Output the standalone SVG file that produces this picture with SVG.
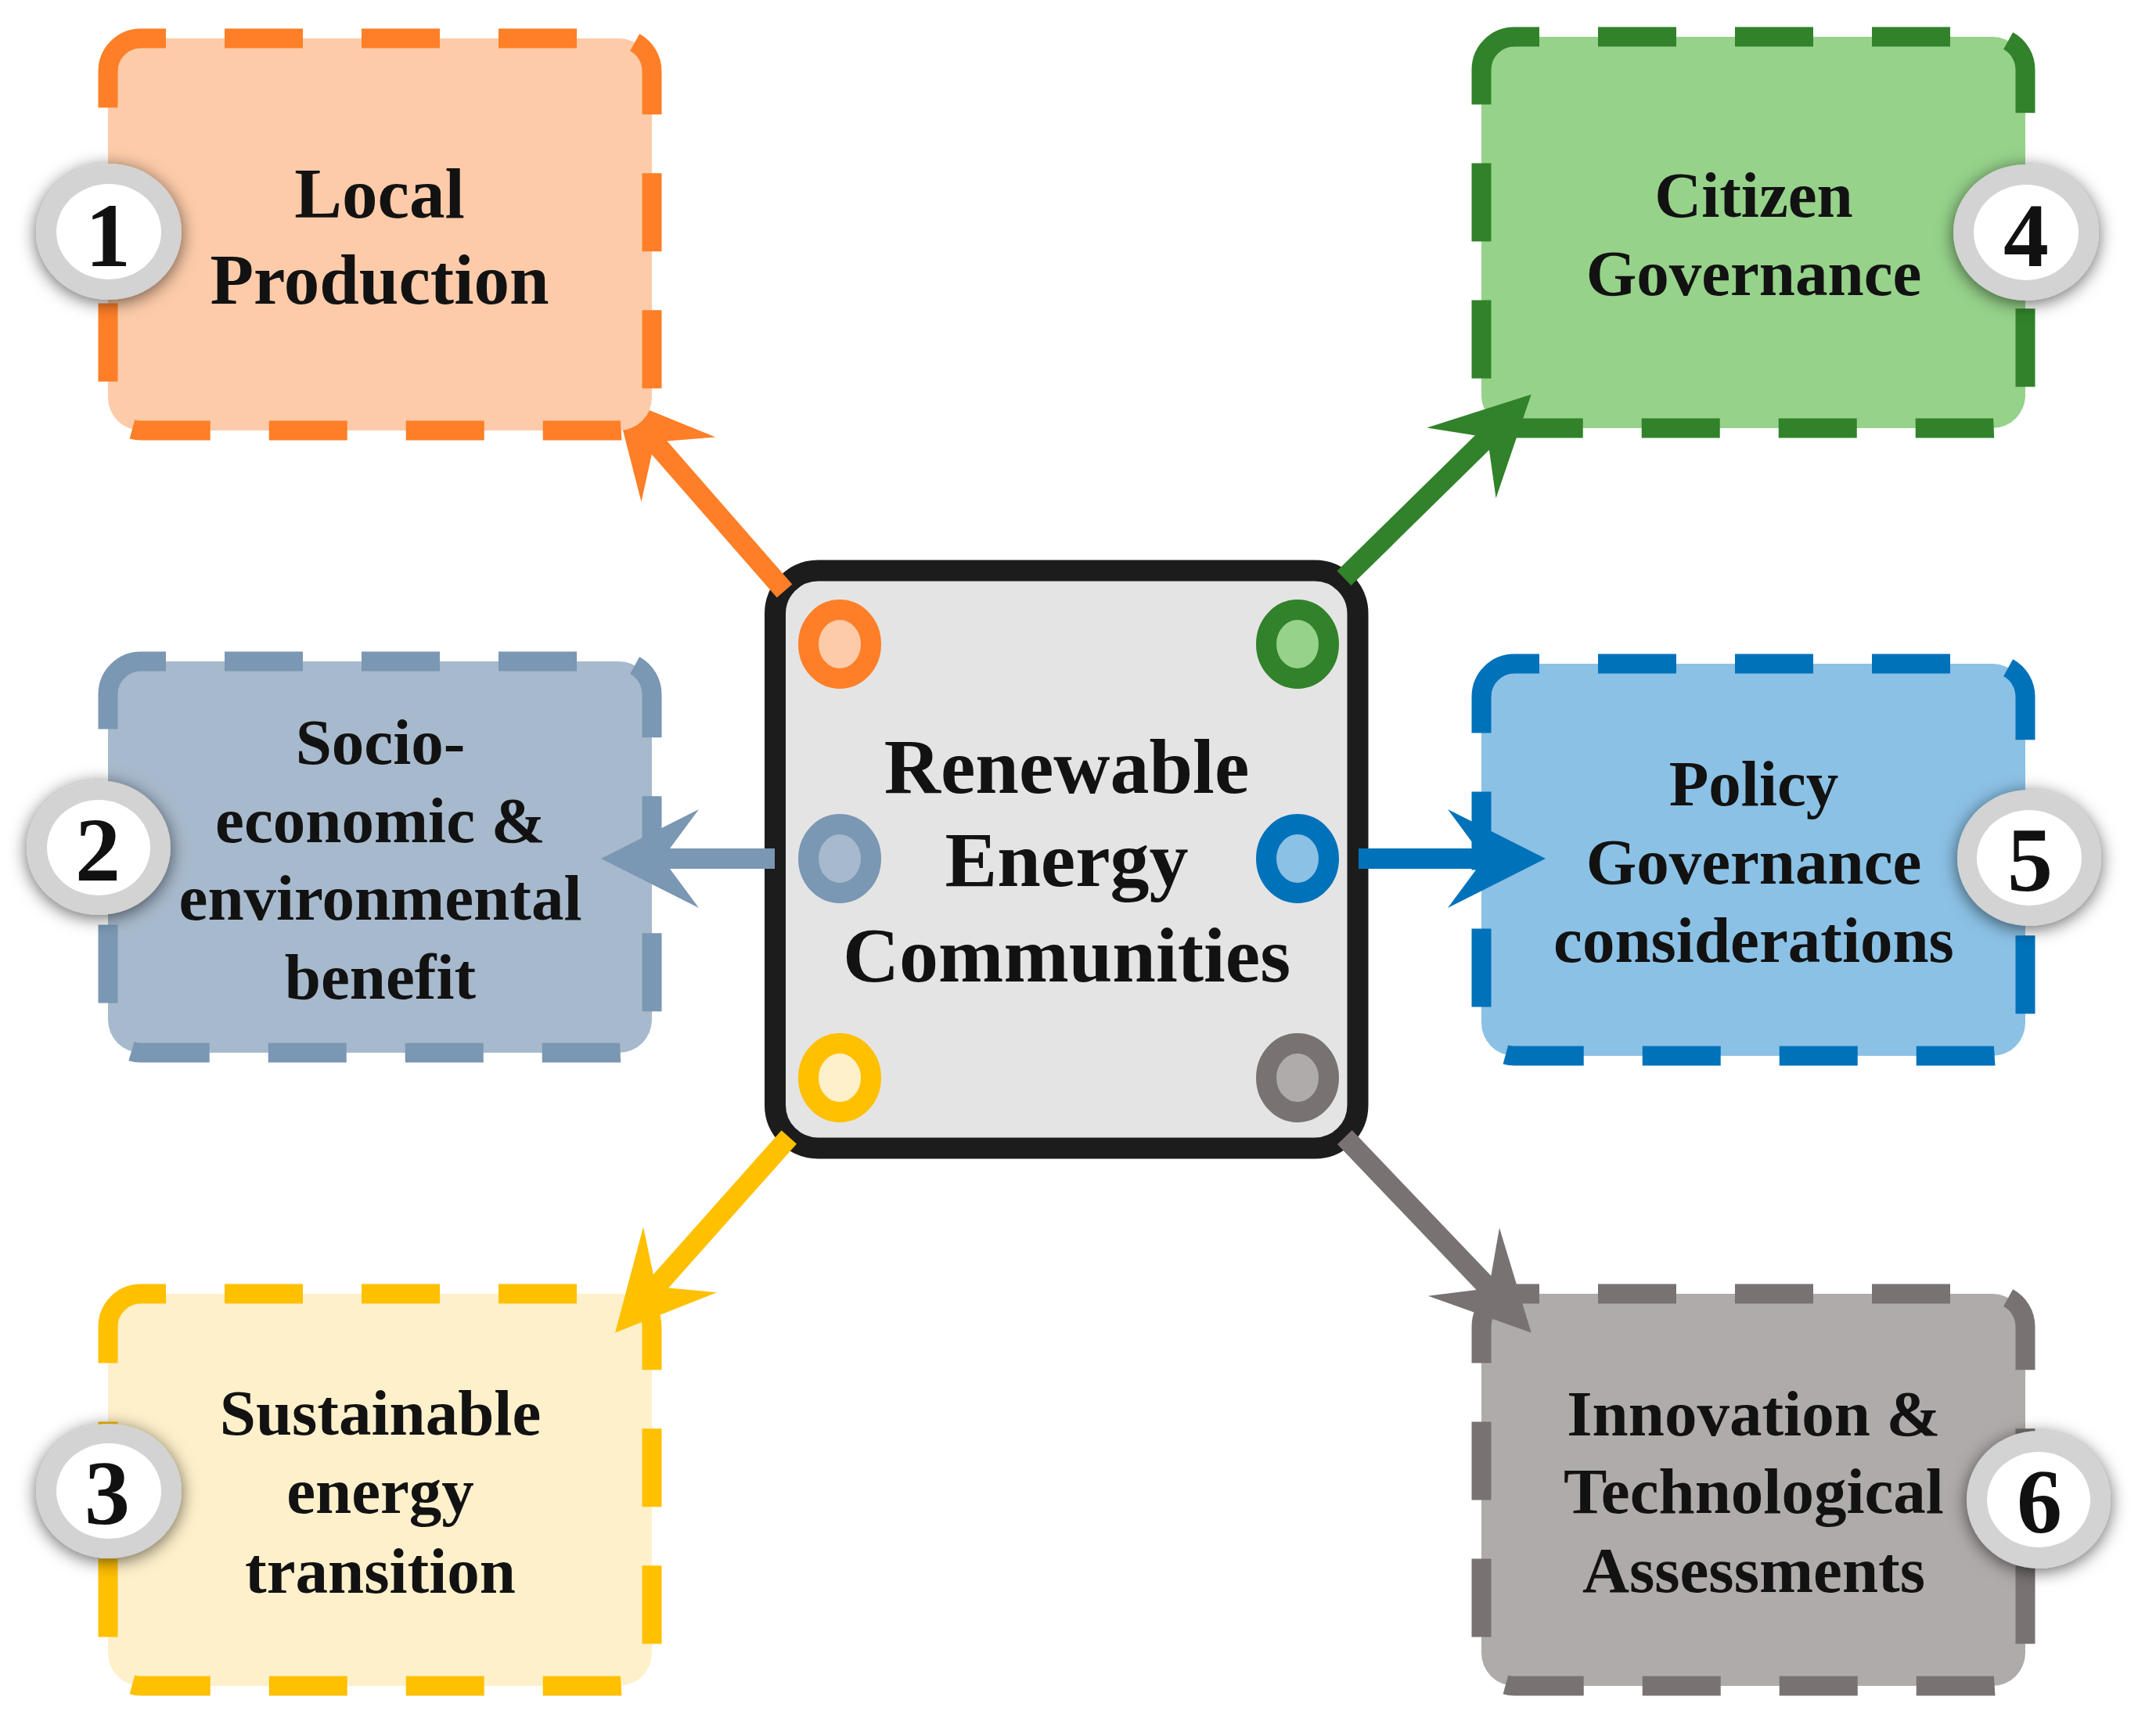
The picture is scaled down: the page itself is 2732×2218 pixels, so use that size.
<svg xmlns="http://www.w3.org/2000/svg" width="2732" height="2218" viewBox="0 0 2732 2218">
  <style>
    .box { stroke-width: 25; stroke-dasharray: 0 75 100 75 100 75 100 75 100 75 100 75 100 75 100 75 100 75 100 75 100 75 100 75 100 75 145 0; stroke-dashoffset: 2288; stroke-linecap: butt; }
    .lbl { font-family: "Liberation Serif", "Times New Roman", serif; font-weight: bold; fill: #121212; text-anchor: middle; }
    .t84 { font-size: 83px; }
    .t91 { font-size: 91px; }
    .t100 { font-size: 100px; }
    .num { font-family: "Liberation Serif", "Times New Roman", serif; font-weight: bold; font-size: 116px; fill: #111; text-anchor: middle; }
    .ring { fill: #d3d3d3; filter: url(#shadow); }
    .ringin { fill: #ffffff; }
    .dot { stroke-width: 26; }
    .conn { stroke-width: 26; fill: none; stroke-linecap: butt; }
  </style>
  <defs>
    <filter id="shadow" x="-40%" y="-40%" width="180%" height="180%">
      <feDropShadow dx="0" dy="4" stdDeviation="11" flood-color="#000" flood-opacity="0.6"/>
    </filter>
    <clipPath id="clipBox1">
      <path clip-rule="evenodd" d="M0 0H2732V2218H0Z M180 49H791A42 42 0 0 1 833 91V508A42 42 0 0 1 791 550H180A42 42 0 0 1 138 508V91A42 42 0 0 1 180 49Z"/>
    </clipPath>
    <marker id="ah-orange" markerUnits="userSpaceOnUse" orient="auto" overflow="visible" refX="0" refY="0" markerWidth="1" markerHeight="1">
      <path d="M40,0 L-85,-63 L-48,-13 L-48,13 L-85,63 Z" fill="#FE7F27"/>
    </marker>
    <marker id="ah-bluegray" markerUnits="userSpaceOnUse" orient="auto" overflow="visible" refX="0" refY="0" markerWidth="1" markerHeight="1">
      <path d="M40,0 L-85,-63 L-48,-13 L-48,13 L-85,63 Z" fill="#7A97B3"/>
    </marker>
    <marker id="ah-yellow" markerUnits="userSpaceOnUse" orient="auto" overflow="visible" refX="0" refY="0" markerWidth="1" markerHeight="1">
      <path d="M40,0 L-85,-63 L-48,-13 L-48,13 L-85,63 Z" fill="#FFC000"/>
    </marker>
    <marker id="ah-green" markerUnits="userSpaceOnUse" orient="auto" overflow="visible" refX="0" refY="0" markerWidth="1" markerHeight="1">
      <path d="M40,0 L-85,-63 L-48,-13 L-48,13 L-85,63 Z" fill="#31822A"/>
    </marker>
    <marker id="ah-blue" markerUnits="userSpaceOnUse" orient="auto" overflow="visible" refX="0" refY="0" markerWidth="1" markerHeight="1">
      <path d="M40,0 L-85,-63 L-48,-13 L-48,13 L-85,63 Z" fill="#0072BA"/>
    </marker>
    <marker id="ah-gray" markerUnits="userSpaceOnUse" orient="auto" overflow="visible" refX="0" refY="0" markerWidth="1" markerHeight="1">
      <path d="M40,0 L-85,-63 L-48,-13 L-48,13 L-85,63 Z" fill="#797272"/>
    </marker>
  </defs>

  <rect x="0" y="0" width="2732" height="2218" fill="#ffffff"/>

  <!-- Central node -->
  <g id="center">
    <rect x="990.5" y="729" width="744.5" height="738" rx="55" ry="55" fill="#E4E4E4" stroke="#1C1C1C" stroke-width="27"/>
    <ellipse class="dot" cx="1073" cy="823" rx="40" ry="44" fill="#FDCBA9" stroke="#FE7F27"/>
    <ellipse class="dot" cx="1658" cy="823" rx="40" ry="44" fill="#96D28A" stroke="#31822A"/>
    <ellipse class="dot" cx="1073" cy="1097" rx="40" ry="44" fill="#A7B9CC" stroke="#7A97B3"/>
    <ellipse class="dot" cx="1658" cy="1097" rx="40" ry="44" fill="#8BC1E5" stroke="#0072BA"/>
    <ellipse class="dot" cx="1073" cy="1377" rx="40" ry="44" fill="#FEF0CA" stroke="#FFC000"/>
    <ellipse class="dot" cx="1658" cy="1377" rx="40" ry="44" fill="#AFABAA" stroke="#797272"/>
    <text class="lbl t100" x="1363" y="1013">Renewable</text>
    <text class="lbl t100" x="1363" y="1132">Energy</text>
    <text class="lbl t100" x="1363" y="1254">Communities</text>
  </g>

  <!-- Node 1 -->
  <g id="node1">
    <rect class="box" x="138" y="49" width="695" height="501" rx="42" ry="42" fill="#FDCBA9" stroke="#FE7F27"/>
    <text class="lbl t91" x="485" y="278">Local</text>
    <text class="lbl t91" x="485" y="388">Production</text>
    <ellipse class="ring" cx="139" cy="296" rx="93" ry="87"/>
    <ellipse class="ringin" cx="139" cy="296" rx="67" ry="61"/>
    <text class="num" x="138" y="340">1</text>
  </g>

  <!-- Node 2 -->
  <g id="node2">
    <rect class="box" x="138" y="845" width="695" height="500" rx="42" ry="42" fill="#A7B9CC" stroke="#7A97B3"/>
    <text class="lbl t84" x="486" y="976">Socio-</text>
    <text class="lbl t84" x="486" y="1076">economic &amp;</text>
    <text class="lbl t84" x="486" y="1175">environmental</text>
    <text class="lbl t84" x="486" y="1276">benefit</text>
    <ellipse class="ring" cx="126" cy="1083" rx="92" ry="86"/>
    <ellipse class="ringin" cx="126" cy="1083" rx="66" ry="61"/>
    <text class="num" x="125" y="1125">2</text>
  </g>

  <!-- Node 3 -->
  <g id="node3">
    <rect class="box" x="138" y="1653" width="695" height="501" rx="42" ry="42" fill="#FEF0CA" stroke="#FFC000"/>
    <text class="lbl t84" x="486" y="1833">Sustainable</text>
    <text class="lbl t84" x="486" y="1933">energy</text>
    <text class="lbl t84" x="486" y="2035">transition</text>
    <ellipse class="ring" cx="139" cy="1905" rx="93" ry="86"/>
    <ellipse class="ringin" cx="139" cy="1905" rx="67" ry="61"/>
    <text class="num" x="137" y="1947">3</text>
  </g>

  <!-- Node 4 -->
  <g id="node4">
    <rect class="box" x="1893" y="47" width="695" height="500" rx="42" ry="42" fill="#96D28A" stroke="#31822A"/>
    <text class="lbl t84" x="2241" y="277">Citizen</text>
    <text class="lbl t84" x="2241" y="377">Governance</text>
    <ellipse class="ring" cx="2589" cy="297" rx="93" ry="87"/>
    <ellipse class="ringin" cx="2589" cy="297" rx="67" ry="61"/>
    <text class="num" x="2589" y="340">4</text>
  </g>

  <!-- Node 5 -->
  <g id="node5">
    <rect class="box" x="1893" y="848" width="695" height="501" rx="42" ry="42" fill="#8BC1E5" stroke="#0072BA"/>
    <text class="lbl t84" x="2241" y="1029">Policy</text>
    <text class="lbl t84" x="2241" y="1129">Governance</text>
    <text class="lbl t84" x="2241" y="1229">considerations</text>
    <ellipse class="ring" cx="2593" cy="1096" rx="92" ry="87"/>
    <ellipse class="ringin" cx="2593" cy="1096" rx="67" ry="61"/>
    <text class="num" x="2594" y="1138">5</text>
  </g>

  <!-- Node 6 -->
  <g id="node6">
    <rect class="box" x="1893" y="1653" width="695" height="501" rx="42" ry="42" fill="#AFABAA" stroke="#797272"/>
    <text class="lbl t84" x="2241" y="1834">Innovation &amp;</text>
    <text class="lbl t84" x="2241" y="1933">Technological</text>
    <text class="lbl t84" x="2241" y="2034">Assessments</text>
    <ellipse class="ring" cx="2605" cy="1916" rx="92" ry="88"/>
    <ellipse class="ringin" cx="2605" cy="1916" rx="66" ry="61"/>
    <text class="num" x="2606" y="1958">6</text>
  </g>

  <!-- Connectors -->
  <g id="connectors">
    <line class="conn" x1="1002.5" y1="755" x2="811" y2="535.9" stroke="#FE7F27" marker-end="url(#ah-orange)" clip-path="url(#clipBox1)"/>
    <line class="conn" x1="990" y1="1097" x2="808" y2="1097" stroke="#7A97B3" marker-end="url(#ah-bluegray)"/>
    <line class="conn" x1="1008.3" y1="1452.8" x2="812.6" y2="1672.8" stroke="#FFC000" marker-end="url(#ah-yellow)"/>
    <line class="conn" x1="1717.5" y1="738.8" x2="1928.1" y2="532" stroke="#31822A" marker-end="url(#ah-green)"/>
    <line class="conn" x1="1736" y1="1097" x2="1935" y2="1097" stroke="#0072BA" marker-end="url(#ah-blue)"/>
    <line class="conn" x1="1718.3" y1="1453" x2="1929.1" y2="1673.8" stroke="#797272" marker-end="url(#ah-gray)"/>
  </g>
</svg>
